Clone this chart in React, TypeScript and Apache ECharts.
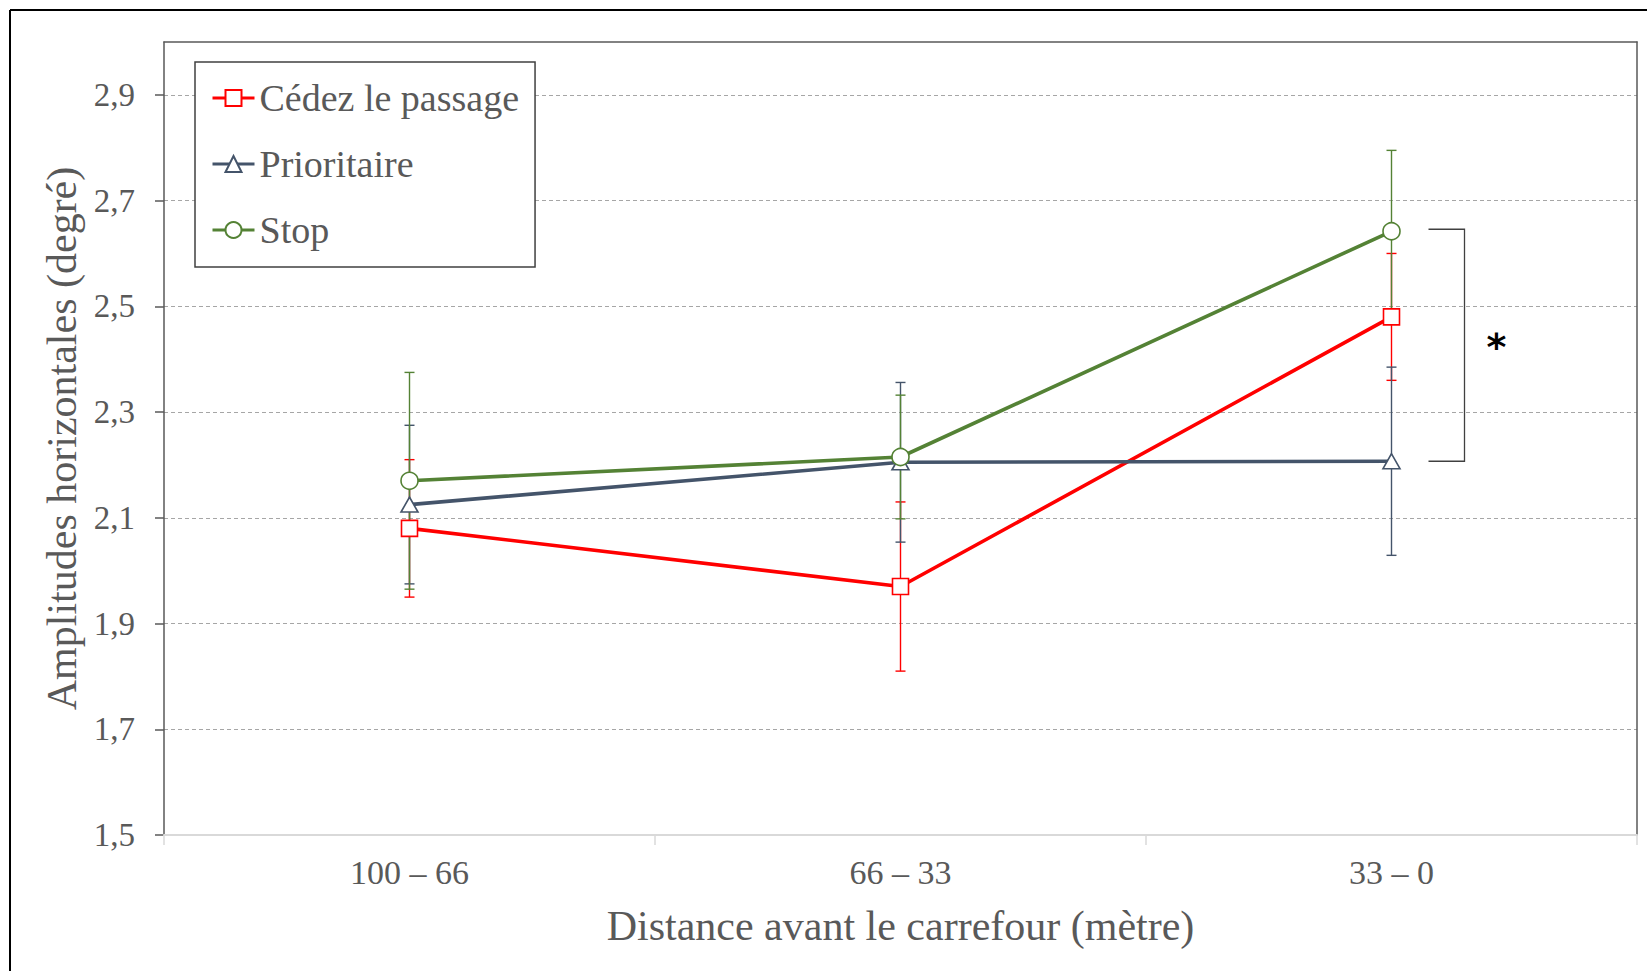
import React, { useEffect, useRef } from 'react';
import * as echarts from 'echarts';

const categories = ['100 – 66', '66 – 33', '33 – 0'];
const seriesNames = ['Cédez le passage', 'Prioritaire', 'Stop'];
const cedezMeans = [2.08, 1.97, 2.48];
const cedezErrors = [0.13, 0.16, 0.12];
const prioritaireMeans = [2.125, 2.205, 2.207];
const prioritaireErrors = [0.15, 0.151, 0.178];
const stopMeans = [2.17, 2.215, 2.642];
const stopErrors = [0.205, 0.117, 0.153];
const yTicks = [1.5, 1.7, 1.9, 2.1, 2.3, 2.5, 2.7, 2.9];
const yMin = 1.5;
const yMax = 3.0;
const significance = { category: 2, label: '*' };

const colors = ['#FF0000', '#44546A', '#548235'];
const symbols = ['rect', 'triangle', 'circle'];
const symbolSizes: any[] = [16, [17, 15], 17];
const FONT = 'Liberation Serif';
const TEXT = '#595959';

function errorSeries(name: string, means: number[], errs: number[], color: string) {
  return {
    type: 'custom',
    name,
    z: 1,
    silent: true,
    encode: { x: 0, y: 1 },
    data: means.map((m, i) => [i, m, errs[i]]),
    renderItem: (params: any, api: any) => {
      const x = api.value(0);
      const m = api.value(1);
      const e = api.value(2);
      const top = api.coord([x, m + e]);
      const bot = api.coord([x, m - e]);
      const half = 5;
      const style = { stroke: color, lineWidth: 1.4 };
      return {
        type: 'group',
        children: [
          { type: 'line', shape: { x1: top[0], y1: top[1], x2: bot[0], y2: bot[1] }, style },
          { type: 'line', shape: { x1: top[0] - half, y1: top[1], x2: top[0] + half, y2: top[1] }, style },
          { type: 'line', shape: { x1: bot[0] - half, y1: bot[1], x2: bot[0] + half, y2: bot[1] }, style },
        ],
      };
    },
  };
}

export default function App() {
  const ref = useRef<HTMLDivElement>(null);
  useEffect(() => {
    if (!ref.current) return;
    const chart = echarts.init(ref.current, undefined, { renderer: 'svg' });
    const means = [cedezMeans, prioritaireMeans, stopMeans];
    const errs = [cedezErrors, prioritaireErrors, stopErrors];
    const option: any = {
      animation: false,
      backgroundColor: '#fff',
      grid: { left: 164, right: 10, top: 42, bottom: 136, containLabel: false },
      legend: {
        orient: 'vertical',
        left: 195,
        top: 62,
        padding: [17, 16, 18, 16],
        itemGap: 28,
        itemWidth: 42,
        itemHeight: 20,
        backgroundColor: '#fff',
        borderColor: '#404040',
        borderWidth: 1.5,
        selectedMode: false,
        lineStyle: { width: 3 },
        textStyle: { fontFamily: FONT, fontSize: 38, color: TEXT },
        data: seriesNames,
        z: 10,
      },
      xAxis: [
        {
          type: 'category',
          data: categories,
          position: 'bottom',
          name: 'Distance avant le carrefour (mètre)',
          nameLocation: 'middle',
          nameGap: 70,
          nameTextStyle: { fontFamily: FONT, fontSize: 42, color: TEXT },
          axisLine: { show: true, lineStyle: { color: '#d9d9d9', width: 2 } },
          axisTick: { show: true, length: 10, lineStyle: { color: '#d9d9d9', width: 1.5 } },
          axisLabel: { fontFamily: FONT, fontSize: 34, color: TEXT, margin: 20 },
          splitLine: { show: false },
          z: 5,
        },
        {
          type: 'category',
          data: categories,
          position: 'top',
          axisLine: { show: true, lineStyle: { color: '#595959', width: 1.5 } },
          axisTick: { show: false },
          axisLabel: { show: false },
          splitLine: { show: false },
        },
      ],
      yAxis: [
        {
          type: 'value',
          min: yMin,
          max: yMax,
          position: 'left',
          name: 'Amplitudes horizontales (degré)',
          nameLocation: 'middle',
          nameGap: 77,
          nameTextStyle: { fontFamily: FONT, fontSize: 42, color: TEXT },
          axisLine: { show: true, lineStyle: { color: '#595959', width: 1.5 } },
          axisTick: { show: true, length: 9, customValues: yTicks, lineStyle: { color: '#595959', width: 1.5 } },
          axisLabel: {
            customValues: yTicks,
            formatter: (v: number) => v.toFixed(1).replace('.', ','),
            fontFamily: FONT,
            fontSize: 33,
            color: TEXT,
            margin: 29,
          },
          splitLine: { show: true, lineStyle: { color: '#a6a6a6', type: [4, 3], width: 1 } },
        },
        {
          type: 'value',
          min: yMin,
          max: yMax,
          position: 'right',
          axisLine: { show: true, lineStyle: { color: '#595959', width: 1.5 } },
          axisTick: { show: false },
          axisLabel: { show: false },
          splitLine: { show: false },
        },
      ],
      graphic: [
        { type: 'line', shape: { x1: 10, y1: 10, x2: 10, y2: 971 }, style: { stroke: '#000', lineWidth: 2 }, z: 20 },
        { type: 'line', shape: { x1: 10, y1: 10, x2: 1647, y2: 10 }, style: { stroke: '#000', lineWidth: 2 }, z: 20 },
      ],
      series: [
        ...seriesNames.map((n, i) => errorSeries('err ' + n, means[i], errs[i], colors[i])),
        ...seriesNames.map((n, i) => ({
          type: 'line',
          name: n,
          data: means[i],
          symbol: symbols[i],
          symbolSize: symbolSizes[i],
          showSymbol: true,
          z: 3,
          lineStyle: { color: colors[i], width: 3.6 },
          itemStyle: { color: '#fff', borderColor: colors[i], borderWidth: 1.6 },
          emphasis: { disabled: true },
        })),
        {
          type: 'custom',
          name: 'significance',
          silent: true,
          z: 4,
          data: [[significance.category, stopMeans[significance.category], prioritaireMeans[significance.category]]],
          renderItem: (params: any, api: any) => {
            const c = api.value(0);
            const p1 = api.coord([c, api.value(1)]);
            const p2 = api.coord([c, api.value(2)]);
            const xa = p1[0] + 37;
            const xb = p1[0] + 73;
            return {
              type: 'group',
              children: [
                {
                  type: 'polyline',
                  shape: { points: [[xa, p1[1] - 2], [xb, p1[1] - 2], [xb, p2[1]], [xa, p2[1]]] },
                  style: { stroke: '#404040', lineWidth: 1.3, fill: 'none' },
                },
                {
                  type: 'text',
                  x: p1[0] + 105,
                  y: (p1[1] + p2[1]) / 2 + 1,
                  style: {
                    text: significance.label,
                    fontFamily: 'DejaVu Sans',
                    fontWeight: 'bold',
                    fontSize: 38,
                    fill: '#000',
                    align: 'center',
                    verticalAlign: 'middle',
                  },
                },
              ],
            };
          },
        },
      ],
    };
    chart.setOption(option);
    return () => chart.dispose();
  }, []);
  return (
    <div
      ref={ref}
      style={{ position: 'absolute', left: 0, top: 0, width: 1647, height: 971, background: '#fff' }}
    />
  );
}
